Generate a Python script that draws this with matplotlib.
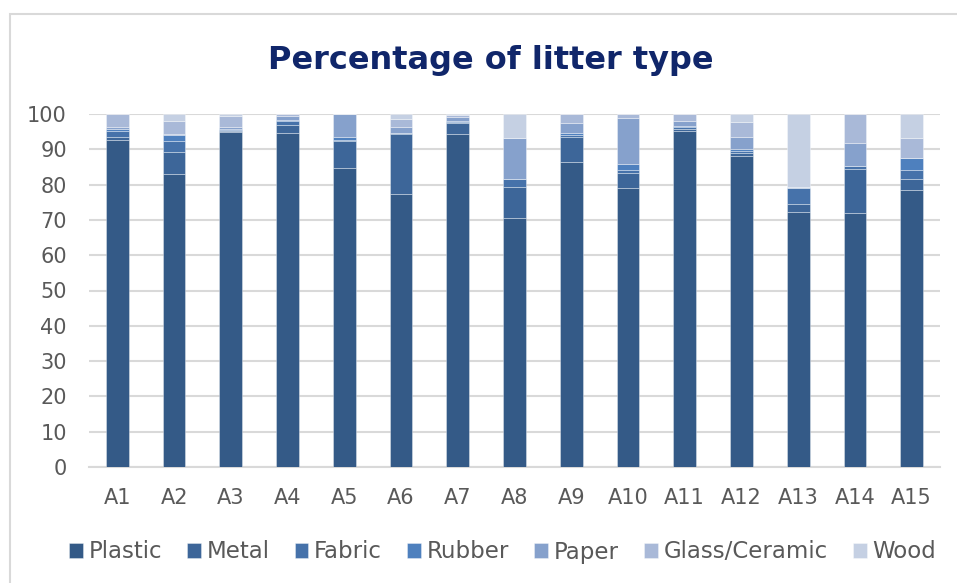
import matplotlib
matplotlib.use("Agg")
import matplotlib.pyplot as plt
from matplotlib.patches import Rectangle
import numpy as np

categories = ["A1", "A2", "A3", "A4", "A5", "A6", "A7", "A8", "A9", "A10",
              "A11", "A12", "A13", "A14", "A15"]
series_names = ["Plastic", "Metal", "Fabric", "Rubber", "Paper", "Glass/Ceramic", "Wood"]
plastic = [92.7, 83.1, 94.8, 94.6, 84.8, 77.4, 94.4, 70.4, 86.4, 79.0, 95.1, 88.0, 72.1, 72.0, 78.6]
metal   = [0.7, 6.1, 0.3, 2.3, 7.5, 16.9, 3.0, 9.0, 7.0, 4.3, 0.6, 0.9, 2.5, 12.4, 3.0]
fabric  = [1.7, 3.1, 0.3, 1.0, 0.3, 0.3, 0.3, 2.1, 0.7, 0.9, 0.5, 0.6, 4.3, 1.0, 2.6]
rubber  = [0.6, 1.7, 0.4, 0.3, 0.8, 0.0, 0.2, 0.0, 0.5, 1.7, 0.4, 0.5, 0.0, 0.0, 3.4]
paper   = [0.5, 0.4, 0.6, 1.1, 6.6, 1.8, 1.3, 11.6, 2.8, 12.9, 1.3, 3.4, 0.5, 6.5, 0.0]
glass   = [3.8, 3.7, 2.9, 0.7, 0.0, 2.1, 0.5, 0.0, 2.6, 1.2, 2.1, 4.2, 0.0, 8.1, 5.5]
wood    = [0.0, 1.9, 0.7, 0.0, 0.0, 1.5, 0.3, 6.9, 0.0, 0.0, 0.0, 2.4, 20.6, 0.0, 6.9]
yticks = [0, 10, 20, 30, 40, 50, 60, 70, 80, 90, 100]
title = "Percentage of litter type"

series = [plastic, metal, fabric, rubber, paper, glass, wood]
colors = ["#345A87", "#3D6699", "#4672AA", "#4E80BE", "#86A1CC", "#A9B9D8", "#C5D0E3"]

plt.rcParams['font.family'] = ['DejaVu Sans']

fig = plt.figure(figsize=(9.57, 5.83), dpi=100)
fig.patch.set_facecolor("white")
# chart frame
fig.add_artist(Rectangle((10/957, -0.1), 1.2, 1 - 14/583 + 0.1, transform=fig.transFigure,
                         fill=False, edgecolor="#D9D9D9", linewidth=1.5))

ax = fig.add_axes([89/957, 1 - 467/583, (940 - 89)/957, (467 - 114)/583])
x = np.arange(len(categories))
bottom = np.zeros(len(categories))
for name, vals, c in zip(series_names, series, colors):
    v = np.array(vals)
    ax.bar(x, v, width=0.4, bottom=bottom, color=c, label=name,
           edgecolor=(1, 1, 1, 0.35), linewidth=0.7, zorder=3)
    bottom += v

ax.set_xlim(-0.5, len(categories) - 0.5)
ax.set_ylim(0, 100)
ax.set_yticks(yticks)
ax.set_xticks(x)
ax.set_xticklabels(categories)
ax.yaxis.grid(True, color="#D9D9D9", linewidth=1.5, zorder=0)
ax.set_axisbelow(True)
for s in ["top", "right", "left"]:
    ax.spines[s].set_visible(False)
ax.spines["bottom"].set_color("#D9D9D9")
ax.spines["bottom"].set_linewidth(1.5)
ax.tick_params(axis="both", length=0, labelsize=15, colors="#595959")
ax.tick_params(axis="y", pad=16)
ax.tick_params(axis="x", pad=15)

fig.text(0.513, 1 - 60/583, title, ha="center", va="center", fontsize=23,
         fontweight="bold", color="#10266A")

leg = fig.legend(loc="center", bbox_to_anchor=(0.525, 1 - 552/583), ncol=7,
                 frameon=False, fontsize=16.5, handlelength=0.6, handleheight=0.6,
                 handletextpad=0.25, columnspacing=1.1, labelcolor="#595959")

fig.savefig("out.png", dpi=100, facecolor="white")
